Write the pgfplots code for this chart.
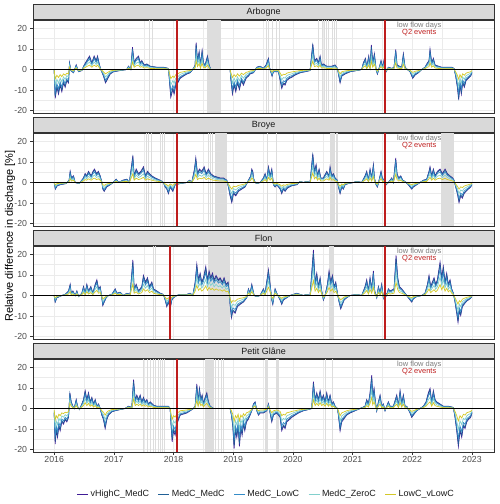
\documentclass[border=0pt]{standalone}
\usepackage{fontspec}
\setmainfont{Liberation Sans}
\usepackage{pgfplots}
\usepackage{pgfplotstable}
\pgfplotsset{compat=1.18}

\definecolor{cVH}{RGB}{63,28,150}
\definecolor{cMM}{RGB}{33,96,150}
\definecolor{cML}{RGB}{52,140,200}
\definecolor{cMZ}{RGB}{130,208,205}
\definecolor{cLV}{RGB}{212,200,40}
\definecolor{grid92}{RGB}{235,235,235}
\definecolor{grey85}{RGB}{217,217,217}
\definecolor{grey20}{RGB}{51,51,51}
\definecolor{grey30}{RGB}{77,77,77}
\definecolor{grey10}{RGB}{26,26,26}
\definecolor{lowcol}{RGB}{221,221,221}
\definecolor{lowtxt}{RGB}{125,125,125}
\definecolor{q2col}{RGB}{190,30,30}

% ---------------- relative discharge differences (x = decimal year) ----------------
% columns: a = vHighC_MedC, b = MedC_MedC, c = MedC_LowC, d = MedC_ZeroC, e = LowC_vLowC
\pgfplotstableread{
x a b c d e
2016.000 0 0 0 0 0
2016.017 -14.0 -13 -11.1 -7.8 -4.6
2016.045 -8.6 -8 -6.8 -4.8 -2.8
2016.073 -11.9 -11 -9.4 -6.6 -3.9
2016.100 -7.6 -7 -6.0 -4.2 -2.5
2016.128 -10.8 -10 -8.5 -6.0 -3.5
2016.156 -6.5 -6 -5.1 -3.6 -2.1
2016.184 -8.6 -8 -6.8 -4.8 -2.8
2016.212 -5.4 -5 -4.3 -3.0 -1.8
2016.240 -6.5 -6 -5.1 -3.6 -2.1
2016.257 3.2 3 2.6 1.8 1.1
2016.279 -0.5 -0.5 -0.4 -0.3 -0.2
2016.324 -1.6 -1.5 -1.3 -0.9 -0.5
2016.369 2.2 2 1.7 1.2 0.7
2016.408 -1.1 -1 -0.9 -0.6 -0.4
2016.463 -0.5 -0.5 -0.4 -0.3 -0.2
2016.503 2.2 2 1.7 1.2 0.7
2016.558 4.9 4.5 3.8 2.7 1.6
2016.592 6.5 6 5.1 3.6 2.1
2016.631 3.2 3 2.6 1.8 1.1
2016.670 6.5 6 5.1 3.6 2.1
2016.704 4.3 4 3.4 2.4 1.4
2016.726 6.5 6 5.1 3.6 2.1
2016.759 2.2 2 1.7 1.2 0.7
2016.782 0 0 0 0 0
2016.826 -3.2 -3 -2.6 -1.8 -1.1
2016.860 -6.5 -6 -5.1 -3.6 -2.1
2016.938 -2.2 -2 -1.7 -1.2 -0.7
2016.994 -1.1 -1 -0.9 -0.6 -0.4
2017.106 -0.5 -0.5 -0.4 -0.3 -0.2
2017.217 0 0 0 0 0
2017.245 1.6 1.5 1.3 0.9 0.5
2017.284 0 0 0 0 0
2017.312 10.8 10 8.5 6.0 3.5
2017.340 3.2 3 2.6 1.8 1.1
2017.374 5.4 5 4.3 3.0 1.8
2017.413 6.5 6 5.1 3.6 2.1
2017.441 3.2 3 2.6 1.8 1.1
2017.468 4.3 4 3.4 2.4 1.4
2017.508 2.2 2 1.7 1.2 0.7
2017.552 2.7 2.5 2.1 1.5 0.9
2017.608 1.6 1.5 1.3 0.9 0.5
2017.720 1.1 1 0.9 0.6 0.4
2017.831 1.1 1 0.9 0.6 0.4
2017.915 0.5 0.5 0.4 0.3 0.2
2017.954 -13.5 -12.5 -10.6 -7.5 -4.4
2017.988 -9.7 -9 -7.7 -5.4 -3.2
2018.010 -11.9 -11 -9.4 -6.6 -3.9
2018.038 -7.6 -7 -6.0 -4.2 -2.5
2018.071 -6.5 -6 -5.1 -3.6 -2.1
2018.111 -4.3 -4 -3.4 -2.4 -1.4
2018.166 -3.2 -3 -2.6 -1.8 -1.1
2018.222 -2.2 -2 -1.7 -1.2 -0.7
2018.278 -1.6 -1.5 -1.3 -0.9 -0.5
2018.334 0.5 0.5 0.4 0.3 0.2
2018.362 2.2 2 1.7 1.2 0.7
2018.379 13.0 12 10.2 7.2 4.2
2018.401 4.3 4 3.4 2.4 1.4
2018.429 8.6 8 6.8 4.8 2.8
2018.451 2.2 2 1.7 1.2 0.7
2018.479 9.2 8.5 7.2 5.1 3.0
2018.501 3.2 3 2.6 1.8 1.1
2018.529 2.2 2 1.7 1.2 0.7
2018.568 6.5 6 5.1 3.6 2.1
2018.596 2.2 2 1.7 1.2 0.7
2018.624 0 0 0 0 0
2018.948 0 0 0 0 0
2018.959 -4.3 -4 -3.4 -2.4 -1.4
2018.987 -11.9 -11 -9.4 -6.6 -3.9
2019.015 -7.6 -7 -6.0 -4.2 -2.5
2019.043 -10.8 -10 -8.5 -6.0 -3.5
2019.071 -6.5 -6 -5.1 -3.6 -2.1
2019.104 -9.7 -9 -7.7 -5.4 -3.2
2019.138 -5.4 -5 -4.3 -3.0 -1.8
2019.171 -7.6 -7 -6.0 -4.2 -2.5
2019.216 -4.3 -4 -3.4 -2.4 -1.4
2019.255 -3.2 -3 -2.6 -1.8 -1.1
2019.283 -2.2 -2 -1.7 -1.2 -0.7
2019.339 -1.6 -1.5 -1.3 -0.9 -0.5
2019.395 1.1 1 0.9 0.6 0.4
2019.451 1.6 1.5 1.3 0.9 0.5
2019.506 0.5 0.5 0.4 0.3 0.2
2019.551 2.2 2 1.7 1.2 0.7
2019.590 5.4 5 4.3 3.0 1.8
2019.607 1.1 1 0.9 0.6 0.4
2019.629 -1.1 -1 -0.9 -0.6 -0.4
2019.651 -3.2 -3 -2.6 -1.8 -1.1
2019.674 -1.1 -1 -0.9 -0.6 -0.4
2019.758 -1.1 -1 -0.9 -0.6 -0.4
2019.813 -9.2 -8.5 -7.2 -5.1 -3.0
2019.841 -7.0 -6.5 -5.5 -3.9 -2.3
2019.869 -7.6 -7 -6.0 -4.2 -2.5
2019.897 -5.4 -5 -4.3 -3.0 -1.8
2019.942 -4.3 -4 -3.4 -2.4 -1.4
2019.981 -3.8 -3.5 -3.0 -2.1 -1.2
2020.037 -2.7 -2.5 -2.1 -1.5 -0.9
2020.121 -1.6 -1.5 -1.3 -0.9 -0.5
2020.204 -1.1 -1 -0.9 -0.6 -0.4
2020.288 -0.5 -0.5 -0.4 -0.3 -0.2
2020.333 12.4 11.5 9.8 6.9 4.0
2020.361 4.3 4 3.4 2.4 1.4
2020.400 5.4 5 4.3 3.0 1.8
2020.428 3.2 3 2.6 1.8 1.1
2020.456 6.5 6 5.1 3.6 2.1
2020.478 2.2 2 1.7 1.2 0.7
2020.511 2.7 2.5 2.1 1.5 0.9
2020.567 1.6 1.5 1.3 0.9 0.5
2020.651 1.6 1.5 1.3 0.9 0.5
2020.707 2.2 2 1.7 1.2 0.7
2020.746 0.5 0.5 0.4 0.3 0.2
2020.763 -2.2 -2 -1.7 -1.2 -0.7
2020.791 -6.5 -6 -5.1 -3.6 -2.1
2020.819 -3.2 -3 -2.6 -1.8 -1.1
2020.874 -2.2 -2 -1.7 -1.2 -0.7
2020.958 -1.1 -1 -0.9 -0.6 -0.4
2021.070 -0.5 -0.5 -0.4 -0.3 -0.2
2021.154 0 0 0 0 0
2021.181 3.2 3 2.6 1.8 1.1
2021.215 5.4 5 4.3 3.0 1.8
2021.237 1.1 1 0.9 0.6 0.4
2021.271 6.5 6 5.1 3.6 2.1
2021.293 1.1 1 0.9 0.6 0.4
2021.315 11.9 11 9.4 6.6 3.9
2021.338 3.2 3 2.6 1.8 1.1
2021.366 7.6 7 6.0 4.2 2.5
2021.394 0 0 0 0 0
2021.416 -2.2 -2 -1.7 -1.2 -0.7
2021.449 1.1 1 0.9 0.6 0.4
2021.477 4.3 4 3.4 2.4 1.4
2021.505 1.1 1 0.9 0.6 0.4
2021.533 5.4 5 4.3 3.0 1.8
2021.561 -1.1 -1 -0.9 -0.6 -0.4
2021.600 1.1 1 0.9 0.6 0.4
2021.656 0.5 0.5 0.4 0.3 0.2
2021.695 1.1 1 0.9 0.6 0.4
2021.723 9.7 9 7.7 5.4 3.2
2021.745 2.2 2 1.7 1.2 0.7
2021.784 1.6 1.5 1.3 0.9 0.5
2021.824 1.1 1 0.9 0.6 0.4
2021.851 7.6 7 6.0 4.2 2.5
2021.879 1.1 1 0.9 0.6 0.4
2021.918 0 0 0 0 0
2021.963 -1.1 -1 -0.9 -0.6 -0.4
2022.008 -4.3 -4 -3.4 -2.4 -1.4
2022.047 -2.7 -2.5 -2.1 -1.5 -0.9
2022.103 -1.6 -1.5 -1.3 -0.9 -0.5
2022.159 0 0 0 0 0
2022.214 1.1 1 0.9 0.6 0.4
2022.254 3.2 3 2.6 1.8 1.1
2022.281 4.3 4 3.4 2.4 1.4
2022.298 9.7 9 7.7 5.4 3.2
2022.326 3.2 3 2.6 1.8 1.1
2022.354 5.4 5 4.3 3.0 1.8
2022.382 2.2 2 1.7 1.2 0.7
2022.438 1.6 1.5 1.3 0.9 0.5
2022.493 1.1 1 0.9 0.6 0.4
2022.577 1.1 1 0.9 0.6 0.4
2022.661 1.1 1 0.9 0.6 0.4
2022.700 0.5 0.5 0.4 0.3 0.2
2022.728 -3.2 -3 -2.6 -1.8 -1.1
2022.756 -8.6 -8 -6.8 -4.8 -2.8
2022.778 -14.6 -13.5 -11.5 -8.1 -4.7
2022.800 -7.6 -7 -6.0 -4.2 -2.5
2022.823 -11.9 -11 -9.4 -6.6 -3.9
2022.845 -6.5 -6 -5.1 -3.6 -2.1
2022.873 -8.6 -8 -6.8 -4.8 -2.8
2022.901 -5.4 -5 -4.3 -3.0 -1.8
2022.940 -4.3 -4 -3.4 -2.4 -1.4
2022.979 -3.2 -3 -2.6 -1.8 -1.1
2023.000 -1.6 -1.5 -1.3 -0.9 -0.5
}\dArbogne

\pgfplotstableread{
x a b c d e
2016.000 0 0 0 0 0
2016.020 -3.2 -3 -2.6 -1.8 -1.1
2016.050 -1.6 -1.5 -1.3 -0.9 -0.5
2016.100 -1.1 -1 -0.9 -0.6 -0.4
2016.200 -0.5 -0.5 -0.4 -0.3 -0.2
2016.250 1.1 1 0.9 0.6 0.4
2016.268 5.4 5 4.3 3.0 1.8
2016.290 2.2 2 1.7 1.2 0.7
2016.324 3.2 3 2.6 1.8 1.1
2016.350 0 0 0 0 0
2016.420 -0.5 -0.5 -0.4 -0.3 -0.2
2016.490 2.2 2 1.7 1.2 0.7
2016.519 4.3 4 3.4 2.4 1.4
2016.545 3.2 3 2.6 1.8 1.1
2016.575 5.4 5 4.3 3.0 1.8
2016.620 3.2 3 2.6 1.8 1.1
2016.650 5.4 5 4.3 3.0 1.8
2016.676 6.5 6 5.1 3.6 2.1
2016.710 4.3 4 3.4 2.4 1.4
2016.740 5.4 5 4.3 3.0 1.8
2016.771 3.2 3 2.6 1.8 1.1
2016.800 0 0 0 0 0
2016.815 -3.2 -3 -2.6 -1.8 -1.1
2016.838 -4.3 -4 -3.4 -2.4 -1.4
2016.880 -2.2 -2 -1.7 -1.2 -0.7
2016.938 -1.1 -1 -0.9 -0.6 -0.4
2016.990 0 0 0 0 0
2017.039 1.6 1.5 1.3 0.9 0.5
2017.080 0 0 0 0 0
2017.150 1.1 1 0.9 0.6 0.4
2017.217 1.6 1.5 1.3 0.9 0.5
2017.260 0 0 0 0 0
2017.318 13.0 12 10.2 7.2 4.2
2017.340 3.2 3 2.6 1.8 1.1
2017.374 6.5 6 5.1 3.6 2.1
2017.413 4.3 4 3.4 2.4 1.4
2017.452 5.4 5 4.3 3.0 1.8
2017.496 7.6 7 6.0 4.2 2.5
2017.530 3.2 3 2.6 1.8 1.1
2017.563 5.4 5 4.3 3.0 1.8
2017.597 4.3 4 3.4 2.4 1.4
2017.636 3.2 3 2.6 1.8 1.1
2017.692 2.2 2 1.7 1.2 0.7
2017.776 1.1 1 0.9 0.6 0.4
2017.830 0 0 0 0 0
2017.859 -2.2 -2 -1.7 -1.2 -0.7
2017.887 -3.2 -3 -2.6 -1.8 -1.1
2017.915 -5.4 -5 -4.3 -3.0 -1.8
2017.943 -2.2 -2 -1.7 -1.2 -0.7
2017.988 -4.3 -4 -3.4 -2.4 -1.4
2018.027 -1.1 -1 -0.9 -0.6 -0.4
2018.111 -0.5 -0.5 -0.4 -0.3 -0.2
2018.222 0 0 0 0 0
2018.270 1.1 1 0.9 0.6 0.4
2018.306 0 0 0 0 0
2018.351 6.5 6 5.1 3.6 2.1
2018.373 11.9 11 9.4 6.6 3.9
2018.401 4.3 4 3.4 2.4 1.4
2018.434 6.5 6 5.1 3.6 2.1
2018.473 5.4 5 4.3 3.0 1.8
2018.513 7.6 7 6.0 4.2 2.5
2018.546 4.3 4 3.4 2.4 1.4
2018.585 6.5 6 5.1 3.6 2.1
2018.624 4.3 4 3.4 2.4 1.4
2018.669 3.2 3 2.6 1.8 1.1
2018.725 2.7 2.5 2.1 1.5 0.9
2018.781 2.2 2 1.7 1.2 0.7
2018.836 2.2 2 1.7 1.2 0.7
2018.892 1.1 1 0.9 0.6 0.4
2018.920 -2.2 -2 -1.7 -1.2 -0.7
2018.948 -6.5 -6 -5.1 -3.6 -2.1
2018.976 -9.7 -9 -7.7 -5.4 -3.2
2019.004 -5.4 -5 -4.3 -3.0 -1.8
2019.043 -6.5 -6 -5.1 -3.6 -2.1
2019.088 -4.3 -4 -3.4 -2.4 -1.4
2019.143 -3.2 -3 -2.6 -1.8 -1.1
2019.199 -2.2 -2 -1.7 -1.2 -0.7
2019.255 1.1 1 0.9 0.6 0.4
2019.294 3.2 3 2.6 1.8 1.1
2019.311 6.5 6 5.1 3.6 2.1
2019.328 5.4 5 4.3 3.0 1.8
2019.339 2.2 2 1.7 1.2 0.7
2019.367 0 0 0 0 0
2019.395 -0.5 -0.5 -0.4 -0.3 -0.2
2019.451 0 0 0 0 0
2019.506 2.2 2 1.7 1.2 0.7
2019.534 4.3 4 3.4 2.4 1.4
2019.562 1.1 1 0.9 0.6 0.4
2019.590 7.6 7 6.0 4.2 2.5
2019.618 3.2 3 2.6 1.8 1.1
2019.646 6.5 6 5.1 3.6 2.1
2019.674 -1.1 -1 -0.9 -0.6 -0.4
2019.702 -2.2 -2 -1.7 -1.2 -0.7
2019.730 -1.1 -1 -0.9 -0.6 -0.4
2019.786 -3.2 -3 -2.6 -1.8 -1.1
2019.813 -5.4 -5 -4.3 -3.0 -1.8
2019.841 -3.2 -3 -2.6 -1.8 -1.1
2019.869 -4.3 -4 -3.4 -2.4 -1.4
2019.908 -2.7 -2.5 -2.1 -1.5 -0.9
2019.981 -1.6 -1.5 -1.3 -0.9 -0.5
2020.065 -1.1 -1 -0.9 -0.6 -0.4
2020.120 0.5 0.5 0.4 0.3 0.2
2020.176 0 0 0 0 0
2020.232 0.5 0.5 0.4 0.3 0.2
2020.288 0 0 0 0 0
2020.333 14.0 13 11.1 7.8 4.6
2020.361 5.4 5 4.3 3.0 1.8
2020.389 8.6 8 6.8 4.8 2.8
2020.411 3.2 3 2.6 1.8 1.1
2020.439 6.5 6 5.1 3.6 2.1
2020.467 2.2 2 1.7 1.2 0.7
2020.511 2.2 2 1.7 1.2 0.7
2020.567 5.4 5 4.3 3.0 1.8
2020.606 3.2 3 2.6 1.8 1.1
2020.623 7.6 7 6.0 4.2 2.5
2020.651 3.2 3 2.6 1.8 1.1
2020.679 4.3 4 3.4 2.4 1.4
2020.707 2.2 2 1.7 1.2 0.7
2020.746 1.1 1 0.9 0.6 0.4
2020.763 -2.2 -2 -1.7 -1.2 -0.7
2020.791 -5.4 -5 -4.3 -3.0 -1.8
2020.819 -2.2 -2 -1.7 -1.2 -0.7
2020.846 -3.2 -3 -2.6 -1.8 -1.1
2020.874 -1.1 -1 -0.9 -0.6 -0.4
2020.930 -0.5 -0.5 -0.4 -0.3 -0.2
2021.014 0 0 0 0 0
2021.070 0.5 0.5 0.4 0.3 0.2
2021.154 0 0 0 0 0
2021.209 3.2 3 2.6 1.8 1.1
2021.237 5.4 5 4.3 3.0 1.8
2021.265 1.1 1 0.9 0.6 0.4
2021.293 6.5 6 5.1 3.6 2.1
2021.321 2.2 2 1.7 1.2 0.7
2021.349 8.6 8 6.8 4.8 2.8
2021.366 2.2 2 1.7 1.2 0.7
2021.394 -1.1 -1 -0.9 -0.6 -0.4
2021.416 -2.2 -2 -1.7 -1.2 -0.7
2021.444 1.1 1 0.9 0.6 0.4
2021.477 5.4 5 4.3 3.0 1.8
2021.505 1.1 1 0.9 0.6 0.4
2021.539 2.2 2 1.7 1.2 0.7
2021.561 -1.1 -1 -0.9 -0.6 -0.4
2021.600 0 0 0 0 0
2021.656 2.2 2 1.7 1.2 0.7
2021.684 0 0 0 0 0
2021.723 11.9 11 9.4 6.6 3.9
2021.745 4.3 4 3.4 2.4 1.4
2021.773 2.2 2 1.7 1.2 0.7
2021.807 3.2 3 2.6 1.8 1.1
2021.840 1.1 1 0.9 0.6 0.4
2021.879 0.5 0.5 0.4 0.3 0.2
2021.935 -1.1 -1 -0.9 -0.6 -0.4
2021.963 -2.2 -2 -1.7 -1.2 -0.7
2021.991 -3.2 -3 -2.6 -1.8 -1.1
2022.019 -2.2 -2 -1.7 -1.2 -0.7
2022.075 -1.1 -1 -0.9 -0.6 -0.4
2022.131 0 0 0 0 0
2022.187 1.1 1 0.9 0.6 0.4
2022.242 1.6 1.5 1.3 0.9 0.5
2022.281 5.4 5 4.3 3.0 1.8
2022.298 7.6 7 6.0 4.2 2.5
2022.326 3.2 3 2.6 1.8 1.1
2022.354 6.5 6 5.1 3.6 2.1
2022.382 3.2 3 2.6 1.8 1.1
2022.421 5.4 5 4.3 3.0 1.8
2022.466 6.5 6 5.1 3.6 2.1
2022.505 4.3 4 3.4 2.4 1.4
2022.550 6.5 6 5.1 3.6 2.1
2022.589 4.3 4 3.4 2.4 1.4
2022.633 3.2 3 2.6 1.8 1.1
2022.678 2.2 2 1.7 1.2 0.7
2022.700 1.1 1 0.9 0.6 0.4
2022.728 -2.2 -2 -1.7 -1.2 -0.7
2022.756 -5.4 -5 -4.3 -3.0 -1.8
2022.784 -9.7 -9 -7.7 -5.4 -3.2
2022.812 -6.5 -6 -5.1 -3.6 -2.1
2022.840 -7.6 -7 -6.0 -4.2 -2.5
2022.868 -5.4 -5 -4.3 -3.0 -1.8
2022.901 -4.3 -4 -3.4 -2.4 -1.4
2022.940 -3.2 -3 -2.6 -1.8 -1.1
2022.979 -2.2 -2 -1.7 -1.2 -0.7
2023.000 -1.1 -1 -0.9 -0.6 -0.4
}\dBroye

\pgfplotstableread{
x a b c d e
2016.000 0 0 0 0 0
2016.017 -3.2 -3 -2.6 -1.8 -1.1
2016.045 -1.1 -1 -0.9 -0.6 -0.4
2016.128 0 0 0 0 0
2016.184 0.5 0.5 0.4 0.3 0.2
2016.240 2.2 2 1.7 1.2 0.7
2016.268 5.4 5 4.3 3.0 1.8
2016.285 1.1 1 0.9 0.6 0.4
2016.313 2.2 2 1.7 1.2 0.7
2016.352 0 0 0 0 0
2016.380 2.2 2 1.7 1.2 0.7
2016.408 -0.5 -0.5 -0.4 -0.3 -0.2
2016.463 1.1 1 0.9 0.6 0.4
2016.491 4.3 4 3.4 2.4 1.4
2016.519 1.1 1 0.9 0.6 0.4
2016.547 5.4 5 4.3 3.0 1.8
2016.575 2.2 2 1.7 1.2 0.7
2016.614 4.3 4 3.4 2.4 1.4
2016.648 1.1 1 0.9 0.6 0.4
2016.687 5.4 5 4.3 3.0 1.8
2016.715 7.6 7 6.0 4.2 2.5
2016.743 3.2 3 2.6 1.8 1.1
2016.771 4.3 4 3.4 2.4 1.4
2016.798 -1.1 -1 -0.9 -0.6 -0.4
2016.815 -4.9 -4.5 -3.8 -2.7 -1.6
2016.838 -3.2 -3 -2.6 -1.8 -1.1
2016.871 -1.1 -1 -0.9 -0.6 -0.4
2016.910 0 0 0 0 0
2016.966 0.5 0.5 0.4 0.3 0.2
2017.022 3.2 3 2.6 1.8 1.1
2017.050 1.1 1 0.9 0.6 0.4
2017.106 1.6 1.5 1.3 0.9 0.5
2017.161 0 0 0 0 0
2017.217 1.1 1 0.9 0.6 0.4
2017.273 0.5 0.5 0.4 0.3 0.2
2017.318 17.3 16 13.6 9.6 5.6
2017.340 3.2 3 2.6 1.8 1.1
2017.374 5.4 5 4.3 3.0 1.8
2017.413 2.2 2 1.7 1.2 0.7
2017.468 4.3 4 3.4 2.4 1.4
2017.496 9.7 9 7.7 5.4 3.2
2017.530 6.5 6 5.1 3.6 2.1
2017.563 8.6 8 6.8 4.8 2.8
2017.597 4.3 4 3.4 2.4 1.4
2017.636 6.5 6 5.1 3.6 2.1
2017.664 3.2 3 2.6 1.8 1.1
2017.720 2.2 2 1.7 1.2 0.7
2017.776 1.1 1 0.9 0.6 0.4
2017.831 0.5 0.5 0.4 0.3 0.2
2017.859 -2.2 -2 -1.7 -1.2 -0.7
2017.887 -5.4 -5 -4.3 -3.0 -1.8
2017.915 -3.2 -3 -2.6 -1.8 -1.1
2017.943 -6.5 -6 -5.1 -3.6 -2.1
2017.971 -2.2 -2 -1.7 -1.2 -0.7
2017.999 -1.1 -1 -0.9 -0.6 -0.4
2018.055 0 0 0 0 0
2018.111 0.5 0.5 0.4 0.3 0.2
2018.222 0.5 0.5 0.4 0.3 0.2
2018.278 1.1 1 0.9 0.6 0.4
2018.323 0 0 0 0 0
2018.362 6.5 6 5.1 3.6 2.1
2018.390 15.1 14 11.9 8.4 4.9
2018.418 7.6 7 6.0 4.2 2.5
2018.446 10.8 10 8.5 6.0 3.5
2018.473 6.5 6 5.1 3.6 2.1
2018.501 8.6 8 6.8 4.8 2.8
2018.540 14.0 13 11.1 7.8 4.6
2018.568 7.6 7 6.0 4.2 2.5
2018.596 11.9 11 9.4 6.6 3.9
2018.624 8.6 8 6.8 4.8 2.8
2018.652 10.8 10 8.5 6.0 3.5
2018.680 7.6 7 6.0 4.2 2.5
2018.713 9.7 9 7.7 5.4 3.2
2018.752 7.6 7 6.0 4.2 2.5
2018.780 8.6 8 6.8 4.8 2.8
2018.819 6.5 6 5.1 3.6 2.1
2018.847 8.6 8 6.8 4.8 2.8
2018.881 5.4 5 4.3 3.0 1.8
2018.914 6.5 6 5.1 3.6 2.1
2018.936 1.1 1 0.9 0.6 0.4
2018.948 -4.3 -4 -3.4 -2.4 -1.4
2018.970 -10.8 -10 -8.5 -6.0 -3.5
2018.993 -7.6 -7 -6.0 -4.2 -2.5
2019.032 -8.6 -8 -6.8 -4.8 -2.8
2019.071 -5.4 -5 -4.3 -3.0 -1.8
2019.116 -4.3 -4 -3.4 -2.4 -1.4
2019.171 -3.2 -3 -2.6 -1.8 -1.1
2019.227 -1.1 -1 -0.9 -0.6 -0.4
2019.255 3.2 3 2.6 1.8 1.1
2019.283 1.1 1 0.9 0.6 0.4
2019.311 5.4 5 4.3 3.0 1.8
2019.350 0 0 0 0 0
2019.395 -0.5 -0.5 -0.4 -0.3 -0.2
2019.451 0 0 0 0 0
2019.506 3.2 3 2.6 1.8 1.1
2019.534 1.1 1 0.9 0.6 0.4
2019.590 12.4 11.5 9.8 6.9 4.0
2019.618 5.4 5 4.3 3.0 1.8
2019.646 -2.2 -2 -1.7 -1.2 -0.7
2019.663 -4.3 -4 -3.4 -2.4 -1.4
2019.702 3.2 3 2.6 1.8 1.1
2019.730 1.1 1 0.9 0.6 0.4
2019.786 -2.2 -2 -1.7 -1.2 -0.7
2019.813 -4.3 -4 -3.4 -2.4 -1.4
2019.841 -2.2 -2 -1.7 -1.2 -0.7
2019.897 -1.1 -1 -0.9 -0.6 -0.4
2019.953 0 0 0 0 0
2020.065 1.1 1 0.9 0.6 0.4
2020.121 0.5 0.5 0.4 0.3 0.2
2020.176 0 0 0 0 0
2020.232 0.5 0.5 0.4 0.3 0.2
2020.288 0 0 0 0 0
2020.344 22.1 20.5 17.4 12.3 7.2
2020.372 6.5 6 5.1 3.6 2.1
2020.400 10.8 10 8.5 6.0 3.5
2020.428 4.3 4 3.4 2.4 1.4
2020.456 8.6 8 6.8 4.8 2.8
2020.483 2.2 2 1.7 1.2 0.7
2020.511 -2.2 -2 -1.7 -1.2 -0.7
2020.539 0 0 0 0 0
2020.578 5.4 5 4.3 3.0 1.8
2020.606 11.9 11 9.4 6.6 3.9
2020.634 6.5 6 5.1 3.6 2.1
2020.662 9.7 9 7.7 5.4 3.2
2020.690 4.3 4 3.4 2.4 1.4
2020.718 6.5 6 5.1 3.6 2.1
2020.746 1.1 1 0.9 0.6 0.4
2020.774 -3.2 -3 -2.6 -1.8 -1.1
2020.802 -6.5 -6 -5.1 -3.6 -2.1
2020.830 -4.3 -4 -3.4 -2.4 -1.4
2020.858 -2.2 -2 -1.7 -1.2 -0.7
2020.902 -1.1 -1 -0.9 -0.6 -0.4
2020.958 0 0 0 0 0
2021.070 0.5 0.5 0.4 0.3 0.2
2021.154 0 0 0 0 0
2021.209 4.3 4 3.4 2.4 1.4
2021.237 7.6 7 6.0 4.2 2.5
2021.265 2.2 2 1.7 1.2 0.7
2021.293 8.6 8 6.8 4.8 2.8
2021.321 3.2 3 2.6 1.8 1.1
2021.349 11.9 11 9.4 6.6 3.9
2021.371 2.2 2 1.7 1.2 0.7
2021.405 -1.1 -1 -0.9 -0.6 -0.4
2021.433 4.3 4 3.4 2.4 1.4
2021.461 1.1 1 0.9 0.6 0.4
2021.488 5.4 5 4.3 3.0 1.8
2021.516 -1.1 -1 -0.9 -0.6 -0.4
2021.544 2.2 2 1.7 1.2 0.7
2021.572 0 0 0 0 0
2021.600 3.2 3 2.6 1.8 1.1
2021.628 2.2 2 1.7 1.2 0.7
2021.695 3.2 3 2.6 1.8 1.1
2021.729 19.4 18 15.3 10.8 6.3
2021.757 8.6 8 6.8 4.8 2.8
2021.785 4.3 4 3.4 2.4 1.4
2021.824 3.2 3 2.6 1.8 1.1
2021.851 2.2 2 1.7 1.2 0.7
2021.879 1.1 1 0.9 0.6 0.4
2021.935 -1.1 -1 -0.9 -0.6 -0.4
2021.963 -2.2 -2 -1.7 -1.2 -0.7
2021.991 -3.2 -3 -2.6 -1.8 -1.1
2022.019 -1.6 -1.5 -1.3 -0.9 -0.5
2022.075 -0.5 -0.5 -0.4 -0.3 -0.2
2022.159 0 0 0 0 0
2022.214 1.1 1 0.9 0.6 0.4
2022.254 5.4 5 4.3 3.0 1.8
2022.281 9.7 9 7.7 5.4 3.2
2022.309 4.3 4 3.4 2.4 1.4
2022.337 6.5 6 5.1 3.6 2.1
2022.365 8.6 8 6.8 4.8 2.8
2022.393 5.4 5 4.3 3.0 1.8
2022.421 7.6 7 6.0 4.2 2.5
2022.466 16.2 15 12.8 9.0 5.3
2022.494 8.6 8 6.8 4.8 2.8
2022.521 14.0 13 11.1 7.8 4.6
2022.549 6.5 6 5.1 3.6 2.1
2022.577 10.8 10 8.5 6.0 3.5
2022.605 5.4 5 4.3 3.0 1.8
2022.633 7.6 7 6.0 4.2 2.5
2022.661 3.2 3 2.6 1.8 1.1
2022.689 1.1 1 0.9 0.6 0.4
2022.717 -3.2 -3 -2.6 -1.8 -1.1
2022.745 -8.6 -8 -6.8 -4.8 -2.8
2022.767 -13.0 -12 -10.2 -7.2 -4.2
2022.789 -7.6 -7 -6.0 -4.2 -2.5
2022.812 -9.7 -9 -7.7 -5.4 -3.2
2022.840 -5.4 -5 -4.3 -3.0 -1.8
2022.868 -4.3 -4 -3.4 -2.4 -1.4
2022.913 -2.7 -2.5 -2.1 -1.5 -0.9
2022.968 -1.6 -1.5 -1.3 -0.9 -0.5
2023.000 -0.5 -0.5 -0.4 -0.3 -0.2
}\dFlon

\pgfplotstableread{
x a b c d e
2016.000 -2.2 -2 -1.7 -1.2 -0.7
2016.017 -17.3 -16 -13.6 -9.6 -5.6
2016.034 -10.8 -10 -8.5 -6.0 -3.5
2016.056 -14.0 -13 -11.1 -7.8 -4.6
2016.078 -8.6 -8 -6.8 -4.8 -2.8
2016.100 -10.8 -10 -8.5 -6.0 -3.5
2016.128 -6.5 -6 -5.1 -3.6 -2.1
2016.156 -7.6 -7 -6.0 -4.2 -2.5
2016.184 -5.4 -5 -4.3 -3.0 -1.8
2016.212 -6.5 -6 -5.1 -3.6 -2.1
2016.240 -4.3 -4 -3.4 -2.4 -1.4
2016.263 7.6 7 6.0 4.2 2.5
2016.285 3.2 3 2.6 1.8 1.1
2016.313 1.1 1 0.9 0.6 0.4
2016.335 0 0 0 0 0
2016.369 4.3 4 3.4 2.4 1.4
2016.391 1.1 1 0.9 0.6 0.4
2016.424 -0.5 -0.5 -0.4 -0.3 -0.2
2016.463 2.2 2 1.7 1.2 0.7
2016.491 4.3 4 3.4 2.4 1.4
2016.519 8.6 8 6.8 4.8 2.8
2016.547 4.3 4 3.4 2.4 1.4
2016.575 7.6 7 6.0 4.2 2.5
2016.603 3.2 3 2.6 1.8 1.1
2016.631 5.4 5 4.3 3.0 1.8
2016.659 2.2 2 1.7 1.2 0.7
2016.687 4.3 4 3.4 2.4 1.4
2016.715 1.1 1 0.9 0.6 0.4
2016.743 2.2 2 1.7 1.2 0.7
2016.771 0 0 0 0 0
2016.798 -3.2 -3 -2.6 -1.8 -1.1
2016.826 -5.4 -5 -4.3 -3.0 -1.8
2016.854 -9.7 -9 -7.7 -5.4 -3.2
2016.882 -5.4 -5 -4.3 -3.0 -1.8
2016.910 -3.2 -3 -2.6 -1.8 -1.1
2016.966 -1.6 -1.5 -1.3 -0.9 -0.5
2017.022 -1.1 -1 -0.9 -0.6 -0.4
2017.106 -0.5 -0.5 -0.4 -0.3 -0.2
2017.189 0 0 0 0 0
2017.245 1.1 1 0.9 0.6 0.4
2017.301 0.5 0.5 0.4 0.3 0.2
2017.330 14.0 13 11.1 7.8 4.6
2017.357 4.3 4 3.4 2.4 1.4
2017.385 6.5 6 5.1 3.6 2.1
2017.413 4.3 4 3.4 2.4 1.4
2017.441 6.5 6 5.1 3.6 2.1
2017.468 3.2 3 2.6 1.8 1.1
2017.496 5.4 5 4.3 3.0 1.8
2017.524 3.2 3 2.6 1.8 1.1
2017.552 4.3 4 3.4 2.4 1.4
2017.580 2.2 2 1.7 1.2 0.7
2017.608 3.2 3 2.6 1.8 1.1
2017.664 1.6 1.5 1.3 0.9 0.5
2017.720 1.1 1 0.9 0.6 0.4
2017.831 1.1 1 0.9 0.6 0.4
2017.915 1.1 1 0.9 0.6 0.4
2017.943 0 0 0 0 0
2017.960 -8.6 -8 -6.8 -4.8 -2.8
2017.977 -16.2 -15 -12.8 -9.0 -5.3
2017.999 -10.8 -10 -8.5 -6.0 -3.5
2018.027 -13.0 -12 -10.2 -7.2 -4.2
2018.055 -7.6 -7 -6.0 -4.2 -2.5
2018.083 -5.4 -5 -4.3 -3.0 -1.8
2018.111 -3.2 -3 -2.6 -1.8 -1.1
2018.166 -2.7 -2.5 -2.1 -1.5 -0.9
2018.222 -2.2 -2 -1.7 -1.2 -0.7
2018.278 -1.1 -1 -0.9 -0.6 -0.4
2018.334 0 0 0 0 0
2018.362 1.1 1 0.9 0.6 0.4
2018.390 11.9 11 9.4 6.6 3.9
2018.412 3.2 3 2.6 1.8 1.1
2018.434 9.7 9 7.7 5.4 3.2
2018.457 4.3 4 3.4 2.4 1.4
2018.479 6.5 6 5.1 3.6 2.1
2018.501 2.2 2 1.7 1.2 0.7
2018.529 5.4 5 4.3 3.0 1.8
2018.557 7.6 7 6.0 4.2 2.5
2018.585 3.2 3 2.6 1.8 1.1
2018.613 1.1 1 0.9 0.6 0.4
2018.669 0 0 0 0 0
2018.948 0 0 0 0 0
2018.970 -3.2 -3 -2.6 -1.8 -1.1
2018.993 -8.6 -8 -6.8 -4.8 -2.8
2019.015 -19.4 -18 -15.3 -10.8 -6.3
2019.037 -10.8 -10 -8.5 -6.0 -3.5
2019.060 -14.0 -13 -11.1 -7.8 -4.6
2019.082 -8.6 -8 -6.8 -4.8 -2.8
2019.104 -18.4 -17 -14.5 -10.2 -6.0
2019.127 -9.7 -9 -7.7 -5.4 -3.2
2019.149 -13.0 -12 -10.2 -7.2 -4.2
2019.171 -7.6 -7 -6.0 -4.2 -2.5
2019.194 -10.8 -10 -8.5 -6.0 -3.5
2019.222 -6.5 -6 -5.1 -3.6 -2.1
2019.250 -5.4 -5 -4.3 -3.0 -1.8
2019.283 -3.2 -3 -2.6 -1.8 -1.1
2019.311 -1.1 -1 -0.9 -0.6 -0.4
2019.339 2.2 2 1.7 1.2 0.7
2019.367 3.2 3 2.6 1.8 1.1
2019.395 -1.1 -1 -0.9 -0.6 -0.4
2019.423 -3.2 -3 -2.6 -1.8 -1.1
2019.451 -2.2 -2 -1.7 -1.2 -0.7
2019.506 -2.2 -2 -1.7 -1.2 -0.7
2019.562 -1.1 -1 -0.9 -0.6 -0.4
2019.590 2.2 2 1.7 1.2 0.7
2019.618 -2.2 -2 -1.7 -1.2 -0.7
2019.646 -6.5 -6 -5.1 -3.6 -2.1
2019.674 -3.2 -3 -2.6 -1.8 -1.1
2019.730 -2.2 -2 -1.7 -1.2 -0.7
2019.786 -4.3 -4 -3.4 -2.4 -1.4
2019.813 -10.8 -10 -8.5 -6.0 -3.5
2019.841 -8.6 -8 -6.8 -4.8 -2.8
2019.869 -9.7 -9 -7.7 -5.4 -3.2
2019.897 -6.5 -6 -5.1 -3.6 -2.1
2019.942 -5.4 -5 -4.3 -3.0 -1.8
2019.981 -4.3 -4 -3.4 -2.4 -1.4
2020.037 -3.2 -3 -2.6 -1.8 -1.1
2020.093 -2.2 -2 -1.7 -1.2 -0.7
2020.176 -1.1 -1 -0.9 -0.6 -0.4
2020.260 -0.5 -0.5 -0.4 -0.3 -0.2
2020.316 0 0 0 0 0
2020.344 13.0 12 10.2 7.2 4.2
2020.372 4.3 4 3.4 2.4 1.4
2020.400 7.6 7 6.0 4.2 2.5
2020.428 4.3 4 3.4 2.4 1.4
2020.456 8.6 8 6.8 4.8 2.8
2020.483 4.3 4 3.4 2.4 1.4
2020.511 6.5 6 5.1 3.6 2.1
2020.539 3.2 3 2.6 1.8 1.1
2020.567 7.6 7 6.0 4.2 2.5
2020.595 3.2 3 2.6 1.8 1.1
2020.623 6.5 6 5.1 3.6 2.1
2020.651 2.2 2 1.7 1.2 0.7
2020.679 3.2 3 2.6 1.8 1.1
2020.707 1.1 1 0.9 0.6 0.4
2020.746 0 0 0 0 0
2020.763 -3.2 -3 -2.6 -1.8 -1.1
2020.791 -10.8 -10 -8.5 -6.0 -3.5
2020.819 -6.5 -6 -5.1 -3.6 -2.1
2020.846 -5.4 -5 -4.3 -3.0 -1.8
2020.902 -3.2 -3 -2.6 -1.8 -1.1
2020.958 -2.2 -2 -1.7 -1.2 -0.7
2021.042 -1.1 -1 -0.9 -0.6 -0.4
2021.126 0 0 0 0 0
2021.209 1.1 1 0.9 0.6 0.4
2021.237 4.3 4 3.4 2.4 1.4
2021.265 2.2 2 1.7 1.2 0.7
2021.293 7.6 7 6.0 4.2 2.5
2021.321 16.2 15 12.8 9.0 5.3
2021.338 5.4 5 4.3 3.0 1.8
2021.360 9.7 9 7.7 5.4 3.2
2021.383 3.2 3 2.6 1.8 1.1
2021.405 -1.1 -1 -0.9 -0.6 -0.4
2021.433 3.2 3 2.6 1.8 1.1
2021.461 6.5 6 5.1 3.6 2.1
2021.488 1.1 1 0.9 0.6 0.4
2021.516 2.2 2 1.7 1.2 0.7
2021.544 -1.1 -1 -0.9 -0.6 -0.4
2021.572 1.1 1 0.9 0.6 0.4
2021.600 3.2 3 2.6 1.8 1.1
2021.628 1.1 1 0.9 0.6 0.4
2021.684 1.1 1 0.9 0.6 0.4
2021.740 6.5 6 5.1 3.6 2.1
2021.768 1.1 1 0.9 0.6 0.4
2021.796 8.6 8 6.8 4.8 2.8
2021.824 2.2 2 1.7 1.2 0.7
2021.851 6.5 6 5.1 3.6 2.1
2021.879 1.1 1 0.9 0.6 0.4
2021.907 1.1 1 0.9 0.6 0.4
2021.963 -2.2 -2 -1.7 -1.2 -0.7
2021.991 -4.3 -4 -3.4 -2.4 -1.4
2022.019 -3.2 -3 -2.6 -1.8 -1.1
2022.075 -1.1 -1 -0.9 -0.6 -0.4
2022.131 0 0 0 0 0
2022.187 1.1 1 0.9 0.6 0.4
2022.231 3.2 3 2.6 1.8 1.1
2022.270 7.6 7 6.0 4.2 2.5
2022.298 9.7 9 7.7 5.4 3.2
2022.326 3.2 3 2.6 1.8 1.1
2022.354 8.6 8 6.8 4.8 2.8
2022.382 4.3 4 3.4 2.4 1.4
2022.410 3.2 3 2.6 1.8 1.1
2022.466 2.2 2 1.7 1.2 0.7
2022.521 1.1 1 0.9 0.6 0.4
2022.605 1.1 1 0.9 0.6 0.4
2022.689 0.5 0.5 0.4 0.3 0.2
2022.717 -4.3 -4 -3.4 -2.4 -1.4
2022.745 -10.8 -10 -8.5 -6.0 -3.5
2022.773 -18.4 -17 -14.5 -10.2 -6.0
2022.800 -10.8 -10 -8.5 -6.0 -3.5
2022.829 -14.0 -13 -11.1 -7.8 -4.6
2022.857 -8.6 -8 -6.8 -4.8 -2.8
2022.885 -9.7 -9 -7.7 -5.4 -3.2
2022.913 -6.5 -6 -5.1 -3.6 -2.1
2022.940 -5.4 -5 -4.3 -3.0 -1.8
2022.979 -4.3 -4 -3.4 -2.4 -1.4
2023.000 -2.2 -2 -1.7 -1.2 -0.7
}\dPetit

% ---------------- low flow days (vertical markers) ----------------
\pgfplotstableread{
x hi lo
2017.591 30 -30
2017.637 30 -30
2018.560 30 -30
2018.572 30 -30
2018.584 30 -30
2018.596 30 -30
2018.608 30 -30
2018.620 30 -30
2018.632 30 -30
2018.644 30 -30
2018.656 30 -30
2018.668 30 -30
2018.680 30 -30
2018.692 30 -30
2018.704 30 -30
2018.716 30 -30
2018.728 30 -30
2018.740 30 -30
2018.752 30 -30
2018.764 30 -30
2018.776 30 -30
2019.546 30 -30
2019.590 30 -30
2019.657 30 -30
2019.730 30 -30
2019.774 30 -30
2020.427 30 -30
2020.489 30 -30
2020.523 30 -30
2020.568 30 -30
2020.598 30 -30
2020.652 30 -30
2020.690 30 -30
2020.719 30 -30
}\lArbogne

\pgfplotstableread{
x hi lo
2017.541 30 -30
2017.580 30 -30
2017.620 30 -30
2017.776 30 -30
2017.804 30 -30
2017.848 30 -30
2018.585 30 -30
2018.620 30 -30
2018.650 30 -30
2018.700 30 -30
2018.712 30 -30
2018.724 30 -30
2018.736 30 -30
2018.748 30 -30
2018.760 30 -30
2018.772 30 -30
2018.784 30 -30
2018.796 30 -30
2018.808 30 -30
2018.820 30 -30
2018.832 30 -30
2018.844 30 -30
2018.856 30 -30
2018.868 30 -30
2018.880 30 -30
2018.892 30 -30
2019.573 30 -30
2019.730 30 -30
2020.625 30 -30
2020.640 30 -30
2020.660 30 -30
2020.680 30 -30
2020.700 30 -30
2020.720 30 -30
2020.740 30 -30
2022.494 30 -30
2022.506 30 -30
2022.518 30 -30
2022.530 30 -30
2022.542 30 -30
2022.554 30 -30
2022.566 30 -30
2022.578 30 -30
2022.590 30 -30
2022.602 30 -30
2022.614 30 -30
2022.626 30 -30
2022.638 30 -30
2022.650 30 -30
2022.662 30 -30
2022.674 30 -30
2022.686 30 -30
}\lBroye

\pgfplotstableread{
x hi lo
2017.663 30 -30
2017.692 30 -30
2018.585 30 -30
2018.597 30 -30
2018.609 30 -30
2018.621 30 -30
2018.633 30 -30
2018.645 30 -30
2018.657 30 -30
2018.669 30 -30
2018.681 30 -30
2018.693 30 -30
2018.705 30 -30
2018.717 30 -30
2018.729 30 -30
2018.741 30 -30
2018.753 30 -30
2018.765 30 -30
2018.777 30 -30
2018.789 30 -30
2018.801 30 -30
2018.813 30 -30
2018.825 30 -30
2018.837 30 -30
2018.849 30 -30
2018.861 30 -30
2018.873 30 -30
2018.885 30 -30
2018.897 30 -30
2018.909 30 -30
2018.921 30 -30
2018.933 30 -30
2019.563 30 -30
2019.618 30 -30
2020.612 30 -30
2020.625 30 -30
2020.640 30 -30
2020.655 30 -30
2020.668 30 -30
2020.678 30 -30
}\lFlon

\pgfplotstableread{
x hi lo
2017.496 30 -30
2017.553 30 -30
2017.608 30 -30
2017.653 30 -30
2017.692 30 -30
2017.747 30 -30
2017.776 30 -30
2017.814 30 -30
2017.848 30 -30
2018.530 30 -30
2018.542 30 -30
2018.554 30 -30
2018.566 30 -30
2018.578 30 -30
2018.590 30 -30
2018.602 30 -30
2018.614 30 -30
2018.626 30 -30
2018.638 30 -30
2018.650 30 -30
2018.662 30 -30
2018.700 30 -30
2018.750 30 -30
2018.800 30 -30
2018.826 30 -30
2019.535 30 -30
2019.547 30 -30
2019.560 30 -30
2019.573 30 -30
2019.720 30 -30
2019.732 30 -30
2019.745 30 -30
2019.758 30 -30
2020.539 30 -30
2020.668 30 -30
}\lPetit

\tikzset{
  strip/.style={anchor=south, minimum width=460.7bp, minimum height=15bp, inner sep=0pt,
    fill=grey85, draw=grey20, line width=0.6bp, font=\fontsize{9}{10}\selectfont, text=grey10},
}

\pgfplotsset{
  panel/.style={
    scale only axis, width=460.7bp, height=93bp,
    xmin=2015.65, xmax=2023.37, ymin=-21.1, ymax=24,
    xtick={2016,2017,...,2023},
    minor xtick={2016.5,2017.5,...,2022.5},
    ytick={-20,-10,0,10,20},
    minor ytick={-15,-5,5,15},
    grid=both,
    major grid style={draw=grid92, line width=0.55bp},
    minor grid style={draw=grid92, line width=0.3bp},
    axis line style={draw=grey20, line width=0.6bp},
    tick align=outside, tick pos=left,
    major tick length=3bp, minor tick length=0pt,
    tick style={draw=grey20, line width=0.55bp},
    ticklabel style={font=\fontsize{8.8}{10}\selectfont, text=grey30},
    yticklabel style={inner sep=1bp, xshift=-2bp},
    xticklabel style={inner sep=1.5bp},
    /pgf/number format/assume math mode=true,
    /pgf/number format/1000 sep={},
    unbounded coords=jump,
  },
  toppanel/.style={panel, xticklabels={}, xtick style={draw=none}},
  lowflow/.style={draw=lowcol, line width=0.6bp, ycomb, forget plot},
  q2line/.style={draw=q2col, line width=1.6bp, sharp plot, forget plot},
  zeroline/.style={black, line width=1.4bp, forget plot},
  ser/.style={line width=0.7bp},
}

\newcommand\lowflows[1]{%
  \addplot[lowflow] table[x=x,y=hi]{#1};
  \addplot[lowflow] table[x=x,y=lo]{#1};}
\newcommand\scenarios[1]{%
  \addplot[ser, cVH] table[x=x,y=a]{#1};
  \addplot[ser, cMM] table[x=x,y=b]{#1};
  \addplot[ser, cML] table[x=x,y=c]{#1};
  \addplot[ser, cMZ] table[x=x,y=d]{#1};
  \addplot[ser, cLV] table[x=x,y=e]{#1};}
\newcommand\annot{%
  \node[font=\fontsize{7.5}{8}\selectfont, text=lowtxt, inner sep=0pt] at (axis cs:2022.117,21.2) {low flow days};
  \node[font=\fontsize{7.5}{8}\selectfont, text=q2col, inner sep=0pt] at (axis cs:2022.117,17.9) {Q2 events};}

\begin{document}
\begin{tikzpicture}
\useasboundingbox (0,0) rectangle (500bp,504bp);

% Arbogne
\begin{axis}[toppanel, at={(33.3bp,391bp)}, anchor=south west,
  extra description/.code={\node[strip] at (0.5,1) {Arbogne};}]
  \lowflows{\lArbogne}
  \scenarios{\dArbogne}
  \addplot[q2line] coordinates {(2018.055,-30) (2018.055,30) (2018.055,nan) (2021.548,-30) (2021.548,30)};
  \addplot[zeroline] coordinates {(2015,0) (2024,0)};
  \annot
\end{axis}

% Broye
\begin{axis}[toppanel, at={(33.3bp,278bp)}, anchor=south west,
  extra description/.code={\node[strip] at (0.5,1) {Broye};}]
  \lowflows{\lBroye}
  \scenarios{\dBroye}
  \addplot[q2line] coordinates {(2018.058,-30) (2018.058,30) (2018.058,nan) (2021.548,-30) (2021.548,30)};
  \addplot[zeroline] coordinates {(2015,0) (2024,0)};
  \annot
\end{axis}

% Flon
\begin{axis}[toppanel, at={(33.3bp,165bp)}, anchor=south west,
  extra description/.code={\node[strip] at (0.5,1) {Flon};}]
  \lowflows{\lFlon}
  \scenarios{\dFlon}
  \addplot[q2line] coordinates {(2017.94,-30) (2017.94,30) (2017.94,nan) (2021.548,-30) (2021.548,30)};
  \addplot[zeroline] coordinates {(2015,0) (2024,0)};
  \annot
\end{axis}

% Petit Glâne (with x axis and legend)
\begin{axis}[panel, at={(33.3bp,52bp)}, anchor=south west,
  extra description/.code={\node[strip] at (0.5,1) {Petit Glâne};},
  legend columns=5,
  legend style={draw=none, fill=none, at={(0.506,-0.4516)}, anchor=center,
    font=\fontsize{9}{10}\selectfont, text=grey10,
    /tikz/every even column/.append style={column sep=7bp}},
  legend image code/.code={\draw[#1, line width=0.8bp] (0bp,0bp) -- (11bp,0bp);}]
  \lowflows{\lPetit}
  \scenarios{\dPetit}
  \addplot[q2line] coordinates {(2018.058,-30) (2018.058,30)};
  \addplot[zeroline] coordinates {(2015,0) (2024,0)};
  \annot
  \legend{vHighC\_MedC, MedC\_MedC, MedC\_LowC, MedC\_ZeroC, LowC\_vLowC}
\end{axis}

\node[rotate=90, font=\fontsize{11}{12}\selectfont, text=black] at (10bp,268bp) {Relative difference in discharge [\%]};
\end{tikzpicture}
\end{document}
